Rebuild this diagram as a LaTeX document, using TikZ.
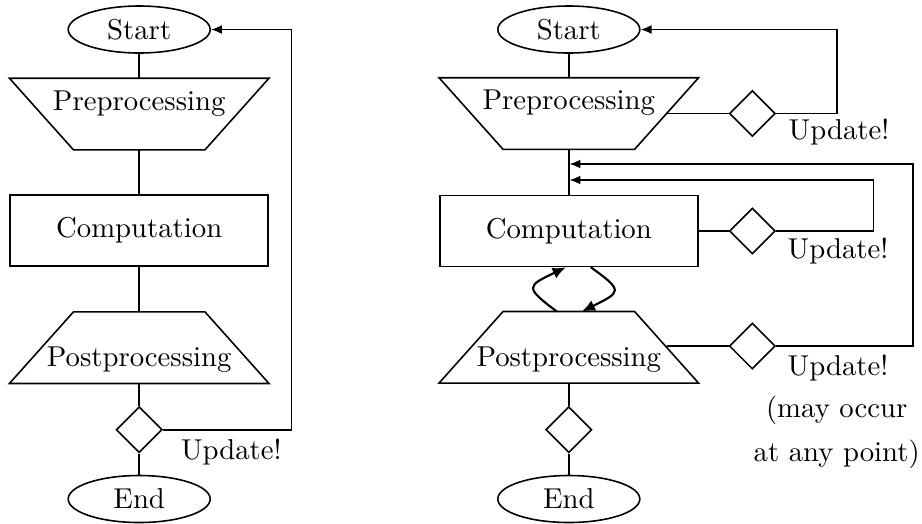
\documentclass[tikz,border=0pt]{standalone}
\usetikzlibrary{shapes.geometric,arrows.meta,calc}
\newcommand{\pxu}{0.348pt}
\begin{document}
\begin{tikzpicture}[x=\pxu,y=-\pxu,line width=0.55pt,
  terminal/.style={draw,ellipse,inner sep=0pt,minimum width=142*\pxu,minimum height=47*\pxu},
  stagebox/.style={rectangle,minimum width=258*\pxu,minimum height=70*\pxu,inner sep=0pt},
  compbox/.style={draw,rectangle,minimum width=258*\pxu,minimum height=71*\pxu,inner sep=0pt},
  decision/.style={draw,diamond,aspect=1,minimum size=46*\pxu,inner sep=0pt},
  lbl/.style={anchor=base,inner sep=0pt},
  arr/.style={-{Latex[length=3.8pt,width=3.1pt]}},
  looparr/.style={line width=0.75pt,-{Latex[length=4.6pt,width=4pt]}}]
\useasboundingbox (0,0) rectangle (922,523);

% trapezoid outlines drawn on the frame of a stage node
\newcommand{\narrowbottom}[1]{%
  \draw (#1.north west) -- (#1.north east) -- ($(#1.south east)+(-64,0)$)
        -- ($(#1.south west)+(64,0)$) -- cycle;}
\newcommand{\narrowtop}[1]{%
  \draw (#1.south west) -- (#1.south east) -- ($(#1.north east)+(-64,0)$)
        -- ($(#1.north west)+(64,0)$) -- cycle;}

% ---- sequential flow with a single update point ----
\node[terminal] (start1) at (139.2,29.5) {Start};
\node[stagebox] (pre1) at (139.2,114) {};
\narrowbottom{pre1}
\node[lbl] (pre1t) at ($(pre1.center)+(0,-4)$) {Preprocessing};
\node[compbox] (comp1) at (139.2,230.5) {Computation};
\node[stagebox] (post1) at (139.2,347.7) {};
\narrowtop{post1}
\node[lbl] (post1t) at ($(post1.center)+(0,19)$) {Postprocessing};
\node[decision] (dec1) at (139.2,429.7) {};
\node[terminal] (end1) at (139.2,499) {End};
\node[lbl] (upd1) at (231.3,459.3) {Update!};
\coordinate (ret1) at (291.7,29.5);

\draw (start1) -- (pre1);
\draw (pre1) -- (comp1);
\draw (comp1) -- (post1);
\draw (post1) -- (dec1);
\draw (dec1) -- (end1);
\draw[arr] (dec1.east) -| (ret1) -- (start1.east);

% ---- flow with updates at every stage ----
\node[terminal] (start2) at (568.8,29.5) {Start};
\node[stagebox] (pre2) at (568.8,113.5) {};
\narrowbottom{pre2}
\node[lbl] (pre2t) at ($(pre2.center)+(0,-4)$) {Preprocessing};
\node[compbox] (comp2) at (568.8,231) {Computation};
\node[stagebox] (post2) at (568.8,347.3) {};
\narrowtop{post2}
\node[lbl] (post2t) at ($(post2.center)+(0,19)$) {Postprocessing};
\node[decision] (dec2) at (568.8,429.7) {};
\node[terminal] (end2) at (568.8,499) {End};

\node[decision] (decA) at (752.3,113.5) {};
\node[decision] (decB) at (752.3,231) {};
\node[decision] (decC) at (752.3,346) {};
\node[lbl] (updA) at (839,139.3) {Update!};
\node[lbl] (updB) at (838,258.3) {Update!};
\node[lbl] (updC) at (838,375) {Update!};
\node[lbl] (note1) at (836.7,417.5) {(may occur};
\node[lbl] (note2) at (836.7,461.7) {at any point)};

\coordinate (retA) at (836.7,29.5);
\coordinate (retB) at (873.3,180);
\coordinate (retC) at (912.7,164);
\coordinate (inB) at (569.5,180);
\coordinate (inC) at (569.5,164);

\draw (start2) -- (pre2);
\draw (pre2) -- (comp2);
\draw (post2) -- (dec2);
\draw (dec2) -- (end2);

\draw ($(pre2.east)+(-32,0)$) -- (decA.west);
\draw (comp2.east) -- (decB.west);
\draw ($(post2.east)+(-32,-1.3)$) -- (decC.west);
\draw[arr] (decA.east) -| (retA) -- (start2.east);
\draw[arr] (decB.east) -| (retB) -- (inB);
\draw[arr] (decC.east) -| (retC) -- (inC);

% exchange between computation and postprocessing
\draw[looparr] ($(post2.north)+(-12,0)$) .. controls (524,287) and (527,286) .. ($(comp2.south)+(-3,0)$);
\draw[looparr] ($(comp2.south)+(22,0)$) .. controls (624,291) and (621,292) .. ($(post2.north)+(13,0)$);
\end{tikzpicture}
\end{document}
